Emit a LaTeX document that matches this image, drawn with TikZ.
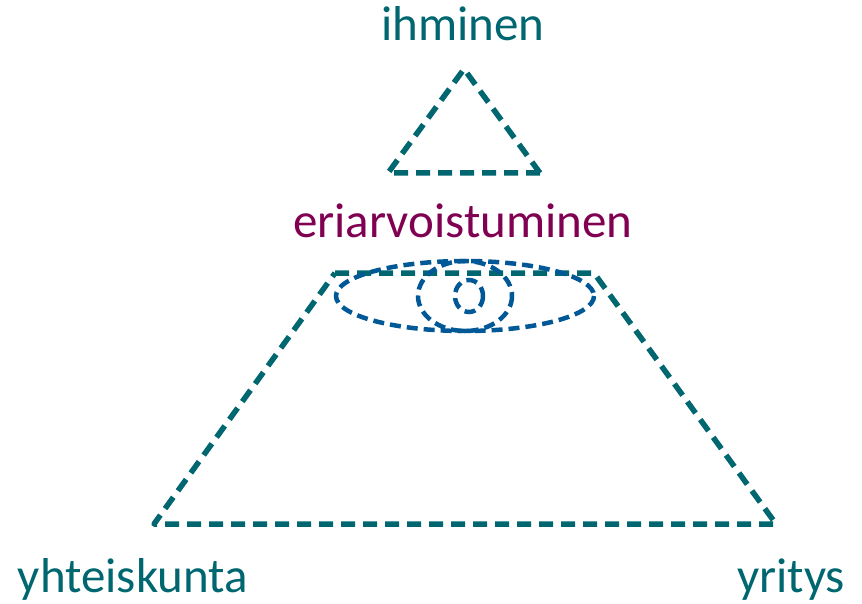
\documentclass[tikz,border=0pt]{standalone}
\usepackage{fontspec}
\setmainfont{Carlito}
\definecolor{teal}{RGB}{0,102,112}
\definecolor{eyeblue}{RGB}{0,88,150}
\definecolor{plum}{RGB}{128,0,82}
\tikzset{
  frame/.style={draw=teal, line width=5.5pt, dash pattern=on 14pt off 8pt, line join=round},
  eye/.style={draw=eyeblue, line width=4.5pt, dash pattern=on 11pt off 6pt},
  lbl/.style={font=\fontsize{49}{54}\selectfont, anchor=base, inner sep=0pt},
}
\begin{document}
\begin{tikzpicture}[x=1pt,y=-1pt]
\useasboundingbox (0,0) rectangle (862,604);
% small triangle
\coordinate (ta) at (464,69);
\coordinate (tl) at (388,173);
\coordinate (tr) at (540,173);
\draw[frame] (tr) -- (tl) -- (ta) -- cycle;
% trapezoid
\coordinate (ptl) at (335,273);
\coordinate (ptr) at (594,273);
\coordinate (pbl) at (154,524);
\coordinate (pbr) at (776,524);
\draw[frame] (ptl) -- (ptr) -- (pbr) -- (pbl) -- cycle;
% eye
\coordinate (ec) at (465,296);
\draw[eye] (ec) ellipse [x radius=129, y radius=35];
\draw[eye] (ec) ellipse [x radius=47, y radius=35];
\coordinate (pc) at (469,296);
\draw[eye] (pc) ellipse [x radius=14, y radius=16];
% labels
\node[lbl, text=teal] (ihminen) at (463,41) {ihminen};
\node[lbl, text=plum] (eri) at (463,237) {eriarvoistuminen};
\node[lbl, text=teal] (yht) at (133,592) {yhteiskunta};
\node[lbl, text=teal] (yri) at (791,592) {yritys};
\end{tikzpicture}
\end{document}
